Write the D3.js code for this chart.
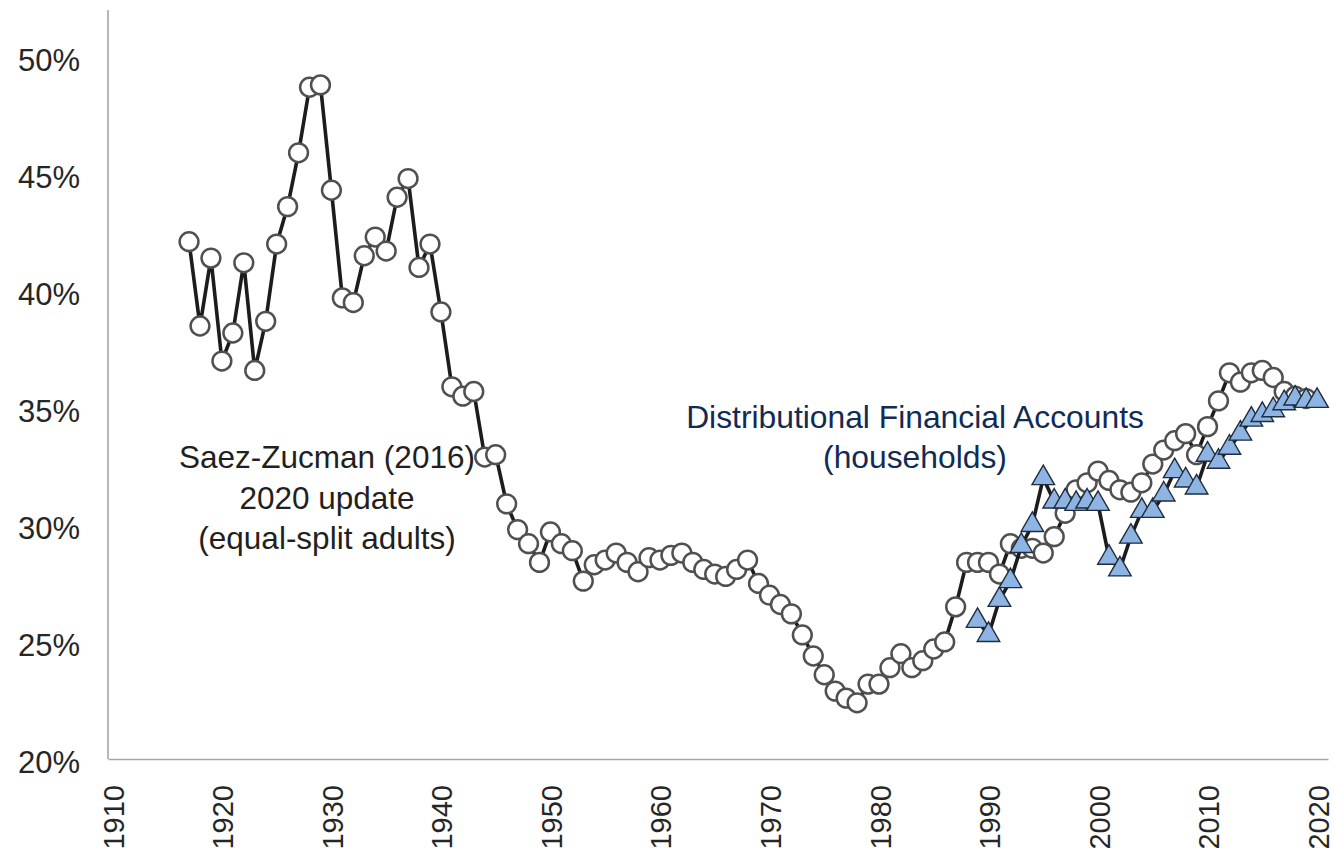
<!DOCTYPE html>
<html>
<head>
<meta charset="utf-8">
<script src="https://cdnjs.cloudflare.com/ajax/libs/d3/7.8.5/d3.min.js"></script>
<style>
	body { margin: 0; background: #fff; }
	text { font-family: "Liberation Sans", Arial, sans-serif; }
</style>
</head>
<body>
<div id="chart"></div>
<script>

// Saez-Zucman (2016) 2020 update, equal-split adults, top share in %
let szYears = d3.range(1917, 2020)
let szValues = [
	42.1, 38.5, 41.4, 37.0, 38.2, 41.2, 36.6, 38.7, 42.0, 43.6,
	45.9, 48.7, 48.8, 44.3, 39.7, 39.5, 41.5, 42.3, 41.7, 44.0,
	44.8, 41.0, 42.0, 39.1, 35.9, 35.5, 35.7, 32.9, 33.0, 30.9,
	29.8, 29.2, 28.4, 29.7, 29.2, 28.9, 27.6, 28.3, 28.5, 28.8,
	28.4, 28.0, 28.6, 28.5, 28.7, 28.8, 28.4, 28.1, 27.9, 27.8,
	28.1, 28.5, 27.5, 27.0, 26.6, 26.2, 25.3, 24.4, 23.6, 22.9,
	22.6, 22.4, 23.2, 23.2, 23.9, 24.5, 23.9, 24.2, 24.7, 25.0,
	26.5, 28.4, 28.4, 28.4, 27.9, 29.2, 29.0, 29.0, 28.8, 29.5,
	30.5, 31.5, 31.8, 32.3, 31.9, 31.5, 31.4, 31.8, 32.6, 33.2,
	33.6, 33.9, 33.0, 34.2, 35.3, 36.5, 36.1, 36.5, 36.6, 36.3,
	35.7, 35.5, 35.4
]

// Distributional Financial Accounts (households)
let dfaYears = d3.range(1989, 2021)
let dfaValues = [
	25.9, 25.3, 26.8, 27.6, 29.1, 30.0, 32.0, 31.0, 31.0, 30.9,
	31.0, 30.9, 28.6, 28.1, 29.5, 30.6, 30.6, 31.3, 32.3, 31.9,
	31.6, 33.0, 32.7, 33.3, 33.9, 34.5, 34.7, 34.9, 35.2, 35.4,
	35.3, 35.3
]

let xTicks = d3.range(1910, 2021, 10)
let yTicks = [20, 25, 30, 35, 40, 45, 50]

let szLabel = ['Saez-Zucman (2016)', '2020 update', '(equal-split adults)']
let dfaLabel = ['Distributional Financial Accounts', '(households)']

let width = 1334
let height = 850

const svg = d3.select('#chart')
	.append('svg')
	.attr('width', width)
	.attr('height', height)

let xScale = d3.scaleLinear()
	.domain([1909.6, 2021])
	.range([108, 1328])

let yScale = d3.scaleLinear()
	.domain([20, 52])
	.range([759, 10])

// axes: plain grey lines, no tick marks
xAxis = g => g
	.attr('transform', `translate(0,${yScale(20)})`)
	.call(d3.axisBottom(xScale).tickValues(xTicks).tickSize(0).tickFormat(d3.format('d')))
	.call(g => g.select('.domain').attr('stroke', '#a6a6a6').attr('stroke-width', 1.6))
	.call(g => g.selectAll('.tick text')
		.attr('transform', 'rotate(-90)')
		.attr('text-anchor', 'end')
		.attr('x', -26)
		.attr('y', 0)
		.attr('dy', '0.38em')
		.attr('fill', '#262626')
		.attr('font-size', 29))

yAxis = g => g
	.attr('transform', `translate(${xScale(1909.6)},0)`)
	.call(d3.axisLeft(yScale).tickValues(yTicks).tickSize(0).tickFormat(d => d + '%'))
	.call(g => g.select('.domain')
		.attr('d', `M0,${yScale(20)}V10`)
		.attr('stroke', '#a6a6a6')
		.attr('stroke-width', 1.6))
	.call(g => g.selectAll('.tick text')
		.attr('x', -28)
		.attr('dy', '0.45em')
		.attr('fill', '#262626')
		.attr('font-size', 31))

svg.append('g').call(xAxis)
svg.append('g').call(yAxis)

let sz = szYears.map((y, i) => ({year: y, value: szValues[i]}))
let dfa = dfaYears.map((y, i) => ({year: y, value: dfaValues[i]}))

let line = d3.line()
	.x(d => xScale(d.year))
	.y(d => yScale(d.value))

// series 1: line then circles
svg.append('path')
	.datum(sz)
	.attr('d', line)
	.attr('fill', 'none')
	.attr('stroke', '#1c1c1c')
	.attr('stroke-width', 3.6)
	.attr('stroke-linejoin', 'round')

svg.append('g')
	.selectAll('circle')
	.data(sz)
	.join('circle')
	.attr('cx', d => xScale(d.year))
	.attr('cy', d => yScale(d.value))
	.attr('r', 9.4)
	.attr('fill', '#ffffff')
	.attr('stroke', '#505050')
	.attr('stroke-width', 2.5)

// series 2: line then triangles
svg.append('path')
	.datum(dfa)
	.attr('d', line)
	.attr('fill', 'none')
	.attr('stroke', '#1c1c1c')
	.attr('stroke-width', 3.6)
	.attr('stroke-linejoin', 'round')

let tri = d3.symbol().type(d3.symbolTriangle).size(220)

svg.append('g')
	.selectAll('path')
	.data(dfa)
	.join('path')
	.attr('d', tri)
	.attr('transform', d => `translate(${xScale(d.year)},${yScale(d.value)})`)
	.attr('fill', '#8db4e2')
	.attr('stroke', '#1f2d3d')
	.attr('stroke-width', 1.4)

// annotations
svg.append('text')
	.attr('x', 327)
	.attr('y', 468)
	.attr('text-anchor', 'middle')
	.attr('font-size', 31.5)
	.attr('fill', '#231f20')
	.selectAll('tspan')
	.data(szLabel)
	.join('tspan')
	.attr('x', 327)
	.attr('dy', (d, i) => i == 0 ? 0 : 40.5)
	.text(d => d)

svg.append('text')
	.attr('x', 915)
	.attr('y', 428)
	.attr('text-anchor', 'middle')
	.attr('font-size', 31.8)
	.attr('fill', '#112b55')
	.selectAll('tspan')
	.data(dfaLabel)
	.join('tspan')
	.attr('x', 915)
	.attr('dy', (d, i) => i == 0 ? 0 : 39.5)
	.text(d => d)

</script>
</body>
</html>
